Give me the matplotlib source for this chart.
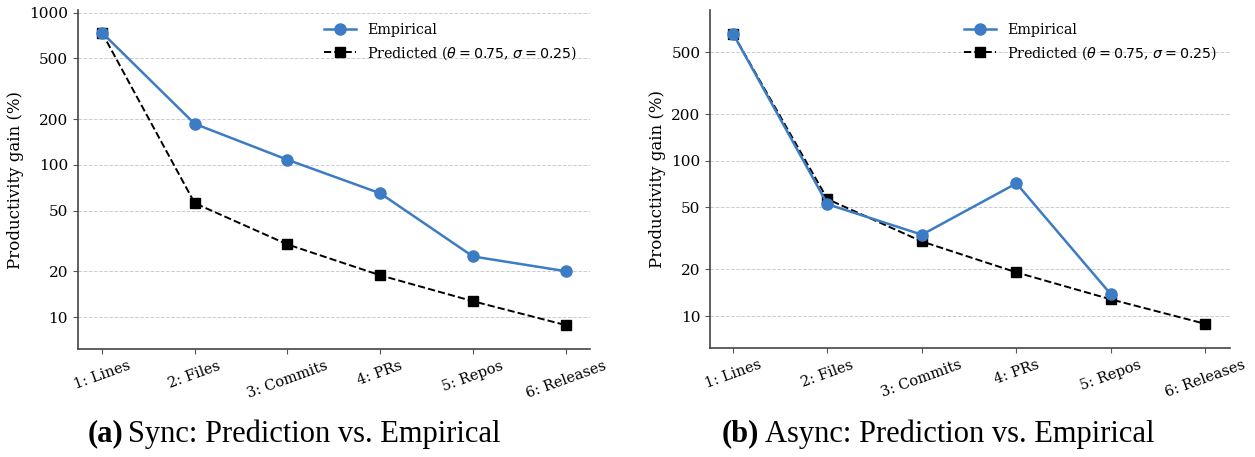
import matplotlib
matplotlib.use("Agg")
from matplotlib import pyplot as plt
from matplotlib.ticker import FixedLocator, NullLocator, FixedFormatter

# categories
stages = ['1: Lines', '2: Files', '3: Commits', '4: PRs', '5: Repos', '6: Releases']

# sync panel
sync_emp = [740, 186, 108, 65, 25, 20]
sync_pred = [740, 56, 30, 18.8, 12.7, 8.85]

# async panel (no empirical value for releases)
async_emp = [659, 52.5, 33.4, 71.5, 13.8]
async_pred = [659, 56.6, 30.2, 19.1, 12.8, 8.9]

yticks = [10, 20, 50, 100, 200, 500, 1000]

plt.rcParams['font.family'] = 'DejaVu Serif'

fig = plt.figure(figsize=(12.55, 4.57), dpi=100)
ax1 = fig.add_axes([0.062, 0.236, 0.408, 0.742])
ax2 = fig.add_axes([0.566, 0.238, 0.414, 0.740])

blue = '#3b7cc4'
label_pred = r'Predicted ($\theta = 0.75$, $\sigma = 0.25$)'

def draw(ax, emp, pred, ylim, xlim):
    x_emp = list(range(len(emp)))
    x_pred = list(range(len(pred)))
    ax.plot(x_emp, emp, '-o', color=blue, lw=1.8, ms=8, label='Empirical', zorder=3)
    ax.plot(x_pred, pred, '--s', color='black', lw=1.4, ms=7, label=label_pred, zorder=2)
    ax.set_yscale('log')
    ax.set_ylim(ylim)
    ax.set_xlim(xlim)
    ax.yaxis.set_major_locator(FixedLocator(yticks))
    ax.yaxis.set_major_formatter(FixedFormatter([str(t) for t in yticks]))
    ax.yaxis.set_minor_locator(NullLocator())
    ax.grid(axis='y', color='#cccccc', ls='--', lw=0.7)
    ax.set_axisbelow(True)
    ax.set_xticks(range(len(stages)))
    ax.set_xticklabels(stages, rotation=20, ha='center', fontsize=10.5)
    ax.tick_params(axis='y', labelsize=11, color='#555555')
    ax.tick_params(axis='x', color='#555555')
    ax.set_ylabel('Productivity gain (%)', fontsize=12)
    for s in ['top', 'right']:
        ax.spines[s].set_visible(False)
    for s in ['left', 'bottom']:
        ax.spines[s].set_color('#444444')
        ax.spines[s].set_linewidth(1.2)
    ax.legend(loc='upper right', frameon=False, fontsize=10.3,
              bbox_to_anchor=(1.0, 1.0), handlelength=2.2)

draw(ax1, sync_emp, sync_pred, (6.15, 1040), (-0.26, 5.26))
draw(ax2, async_emp, async_pred, (6.2, 935), (-0.24, 5.26))

# captions
cy = 1 - 434 / 457
fig.text(123 / 1255, cy, '(a)', fontsize=22, fontweight='bold',
         family='Liberation Serif', ha='right', va='center')
fig.text(128 / 1255, cy, 'Sync: Prediction vs. Empirical', fontsize=22,
         family='Liberation Serif', ha='left', va='center')
fig.text(759 / 1255, cy, '(b)', fontsize=22, fontweight='bold',
         family='Liberation Serif', ha='right', va='center')
fig.text(765 / 1255, cy, 'Async: Prediction vs. Empirical', fontsize=22,
         family='Liberation Serif', ha='left', va='center')

fig.savefig('out.png', dpi=100)
